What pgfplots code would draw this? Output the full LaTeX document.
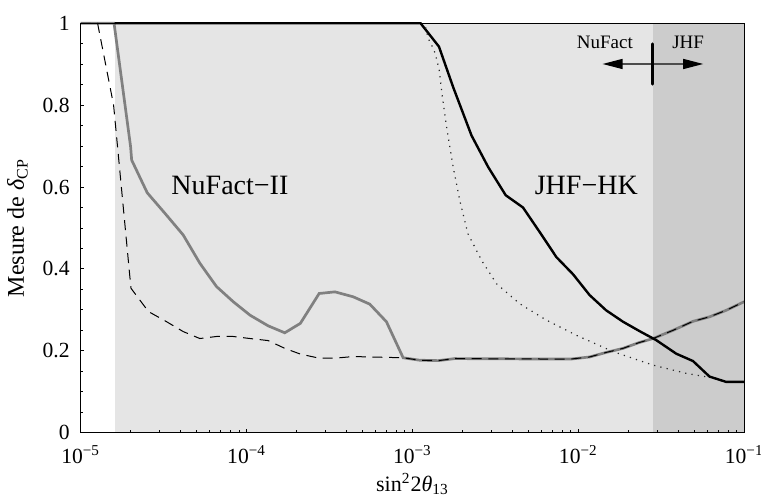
\documentclass[border=0pt]{standalone}
\usepackage{fontspec}
\setmainfont{Liberation Serif}
\usepackage{pgfplots}
\pgfplotsset{compat=1.18}
\usetikzlibrary{arrows.meta}
\definecolor{shadeA}{RGB}{229,229,229}
\definecolor{shadeB}{RGB}{204,204,204}
\definecolor{nfgray}{RGB}{128,128,128}
\begin{document}
\begin{tikzpicture}
\useasboundingbox (-40.33pt,-31.65pt) rectangle (340.17pt,216.35pt);
\begin{axis}[
  at={(0,0)}, anchor=south west,
  scale only axis, width=331.8pt, height=204.7pt,
  xmode=log, xmin=1e-5, xmax=1e-1, ymin=0, ymax=1,
  clip=false, axis on top=true,
  xtick={1e-5,1e-4,1e-3,1e-2,1e-1},
  xticklabels={10\textsuperscript{−5},10\textsuperscript{−4},10\textsuperscript{−3},10\textsuperscript{−2},10\textsuperscript{−1}},
  minor xtick={2e-5,3e-5,4e-5,5e-5,6e-5,7e-5,8e-5,9e-5,2e-4,3e-4,4e-4,5e-4,6e-4,7e-4,8e-4,9e-4,2e-3,3e-3,4e-3,5e-3,6e-3,7e-3,8e-3,9e-3,2e-2,3e-2,4e-2,5e-2,6e-2,7e-2,8e-2,9e-2},
  ytick={0,0.2,0.4,0.6,0.8,1},
  yticklabels={0,0.2,0.4,0.6,0.8,1},
  minor ytick={0.05,0.1,0.15,0.25,0.3,0.35,0.45,0.5,0.55,0.65,0.7,0.75,0.85,0.9,0.95},
  tick align=inside, tick pos=left,
  major tick length=1.8pt, minor tick length=1.4pt,
  every tick/.style={black, line width=0.45pt},
  axis line style={black, line width=0.5pt},
  xticklabel style={anchor=base, yshift=-15.3pt, font=\fontsize{10.8}{12}\selectfont},
  yticklabel style={anchor=east, xshift=-2pt, font=\fontsize{10.8}{12}\selectfont},
  xlabel={sin\textsuperscript{2}2\textit{θ}\textsubscript{13}},
  ylabel={Mesure de \textit{δ}\textsubscript{CP}},
  every axis x label/.style={at={(axis description cs:0.5,-0.1426)}, anchor=base, font=\fontsize{11}{13}\selectfont},
  every axis y label/.style={at={(axis description cs:-0.0952,0.5)}, rotate=90, anchor=center, font=\fontsize{12}{14}\selectfont},
]
% shaded regions
\addplot[fill=shadeA, draw=none, forget plot] coordinates {(1.6e-5,0) (2.81e-2,0) (2.81e-2,1) (1.6e-5,1)} -- cycle;
\addplot[fill=shadeB, draw=none, forget plot] coordinates {(2.81e-2,0) (1e-1,0) (1e-1,1) (2.81e-2,1)} -- cycle;
% NuFact-II (gray)
\addplot[nfgray, line width=1.35pt] coordinates {
(1e-5,1) (1.59e-5,1) (2.0e-5,0.699) (2.03e-5,0.666) (2.52e-5,0.586) (3.22e-5,0.536) (4.15e-5,0.483) (5.23e-5,0.414) (6.59e-5,0.357) (8.31e-5,0.320) (1.05e-4,0.287) (1.35e-4,0.261) (1.70e-4,0.244) (2.11e-4,0.267) (2.74e-4,0.340) (3.41e-4,0.344) (4.39e-4,0.332) (5.53e-4,0.314) (6.97e-4,0.271) (8.79e-4,0.183) (1.107e-3,0.177) (1.43e-3,0.176) (1.80e-3,0.181) (5.85e-3,0.180) (9.08e-3,0.180) (1.17e-2,0.185) (1.47e-2,0.196) (1.86e-2,0.206) (2.32e-2,0.220) (2.82e-2,0.230) (3.72e-2,0.250) (4.91e-2,0.272) (6.18e-2,0.283) (7.79e-2,0.299) (0.1,0.320)};
% JHF-HK (black)
\addplot[black, line width=1.2pt] coordinates {
(1.6e-5,1) (1.12e-3,1) (1.445e-3,0.943) (1.76e-3,0.844) (2.27e-3,0.726) (2.86e-3,0.649) (3.65e-3,0.580) (4.64e-3,0.550) (5.85e-3,0.490) (7.37e-3,0.429) (9.29e-3,0.387) (1.17e-2,0.336) (1.47e-2,0.299) (1.86e-2,0.271) (2.34e-2,0.248) (2.95e-2,0.226) (3.89e-2,0.193) (4.91e-2,0.175) (6.18e-2,0.137) (7.79e-2,0.124) (0.1,0.124)};
% dashed
\addplot[black, line width=0.5pt, dash pattern=on 5pt off 3.3pt] coordinates {
(1e-5,1) (1.265e-5,1) (1.58e-5,0.800) (2.01e-5,0.353) (2.56e-5,0.296) (3.30e-5,0.271) (4.15e-5,0.247) (5.23e-5,0.230) (6.59e-5,0.235) (8.31e-5,0.235) (1.05e-4,0.230) (1.35e-4,0.225) (1.70e-4,0.206) (2.11e-4,0.192) (2.74e-4,0.182) (3.41e-4,0.182) (4.39e-4,0.186) (8.79e-4,0.183) (1.107e-3,0.177) (1.43e-3,0.176) (1.80e-3,0.181) (5.85e-3,0.180) (9.08e-3,0.180) (1.17e-2,0.185) (1.47e-2,0.196) (1.86e-2,0.206) (2.32e-2,0.220) (2.82e-2,0.230) (3.72e-2,0.250) (4.91e-2,0.272) (6.18e-2,0.283) (7.79e-2,0.299) (0.1,0.320)};
% dotted
\addplot[black!85, line width=0.6pt, dash pattern=on 0.6pt off 2.6pt] coordinates {
(1.2e-3,0.99) (1.245e-3,0.963) (1.31e-3,0.945) (1.37e-3,0.927) (1.45e-3,0.886) (1.51e-3,0.825) (1.61e-3,0.744) (1.76e-3,0.649) (1.93e-3,0.567) (2.16e-3,0.486) (2.61e-3,0.421) (3.21e-3,0.364) (4.43e-3,0.315) (6.42e-3,0.275) (9.72e-3,0.238) (1.62e-2,0.198) (2.82e-2,0.165) (4.47e-2,0.145) (6.0e-2,0.136)};
% labels
\node[anchor=base, font=\fontsize{14}{16}\selectfont] at (axis cs:7.94e-5,0.582) {NuFact−II};
\node[anchor=base, font=\fontsize{14}{16}\selectfont] at (axis cs:1.117e-2,0.582) {JHF−HK};
\node[anchor=base, font=\fontsize{9.5}{11}\selectfont] at (axis cs:1.445e-2,0.939) {NuFact};
\node[anchor=base, font=\fontsize{9.5}{11}\selectfont] at (axis cs:4.59e-2,0.939) {JHF};
\draw[black!70, line width=0.65pt, {Triangle[length=10pt,width=5pt,color=black]}-{Triangle[length=10pt,width=5pt,color=black]}] (axis cs:1.40e-2,0.9006) -- (axis cs:5.66e-2,0.9006);
\draw[black, line width=1.67pt, line cap=round] (axis cs:2.81e-2,0.8516) -- (axis cs:2.81e-2,0.9496);
\end{axis}
\end{tikzpicture}
\end{document}
